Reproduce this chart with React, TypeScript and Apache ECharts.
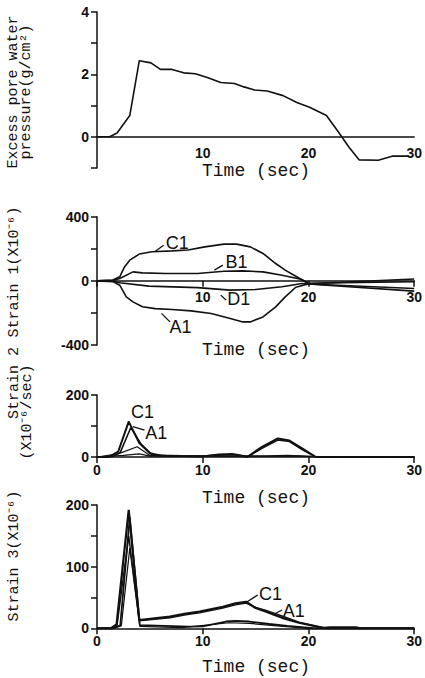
import React, { useEffect, useRef } from "react";
import * as echarts from "echarts";

// ---- Excess pore water pressure (g/cm²) against time (sec)
const poreT = [0, 1.2, 1.9, 3.1, 4.0, 5.1, 6.0, 7.1, 8.2, 9.3, 10.5, 11.7, 13.0, 13.9, 14.9, 16.1, 17.6, 18.9, 20.1, 21.7, 22.9, 23.8, 24.8, 26.6, 27.9, 29.4];
const poreP = [0, 0, 0.12, 0.68, 2.44, 2.37, 2.16, 2.16, 2.05, 2.02, 1.89, 1.74, 1.71, 1.6, 1.5, 1.47, 1.32, 1.1, 0.95, 0.68, 0.12, -0.32, -0.74, -0.75, -0.62, -0.62];

// ---- Strain 1 (x10^-6)
const s1C1T = [0, 1.5, 2.15, 2.6, 3.1, 4.0, 5.2, 7.1, 8.6, 10.2, 12.0, 13.2, 14.5, 15.7, 16.9, 17.8, 18.8, 20.0, 30];
const s1C1V = [0, 5, 25, 87, 129, 167, 181, 187, 192, 212, 229, 229, 212, 171, 108, 67, 29, -18, 12];
const s1A1T = [0, 1.5, 2.15, 2.77, 3.4, 4.3, 5.5, 7.1, 8.9, 10.8, 12.6, 13.8, 14.5, 15.7, 16.9, 17.8, 18.8, 20.0, 30];
const s1A1V = [0, -5, -27, -100, -131, -162, -173, -179, -187, -204, -235, -256, -256, -225, -162, -100, -40, -20, -64];
const s1B1T = [0, 1.5, 2.15, 3.4, 4.3, 6.5, 9.5, 12.0, 13.8, 15.7, 17.5, 19.4, 20.0, 30];
const s1B1V = [0, 3, 15, 56, 50, 46, 46, 60, 62, 56, 35, 8, -15, -6];
const s1D1T = [0, 1.5, 2.15, 4.9, 9.5, 12.6, 15.0, 17.5, 19.4, 20.0, 30];
const s1D1V = [0, -2, -12, -33, -42, -58, -54, -37, -17, -20, -48];

// ---- Strain 2 (x10^-6/sec)
const s2C1T = [0, 1.1, 2.0, 3.0, 4.0, 5.0, 6.0, 8.0, 10.0, 11.5, 12.8, 13.5, 14.2, 15.6, 17.1, 18.2, 19.4, 20.7, 25, 30];
const s2C1V = [0, 0, 17, 114, 45, 12, 5, 3, 2, 8, 10, 6, 0, 33, 60, 53, 28, 0, 0, 0];
const s2A1T = [0, 1.5, 2.2, 3.2, 4.2, 5.2, 7.0, 10.0, 11.5, 12.8, 14.2, 15.6, 17.1, 18.2, 19.4, 20.7, 30];
const s2A1V = [0, 2, 15, 95, 40, 8, 3, 3, 6, 8, 0, 28, 55, 50, 24, 0, 0];
const s2B1T = [0, 2.0, 3.8, 5.0, 8.0, 12.0, 16.0, 18.0, 20.5, 30];
const s2B1V = [0, 10, 33, 5, 2, 4, 4, 5, 2, 0];
const s2D1T = [0, 2.5, 4.0, 5.0, 10.0, 16.0, 19.0, 21.0, 30];
const s2D1V = [0, 5, 10, 3, 2, 2, 3, 0, 0];

// ---- Strain 3 (x10^-6)
const s3C1T = [0, 1.3, 1.85, 3.0, 4.0, 6.9, 8.4, 9.7, 11.9, 13.1, 14.1, 15.0, 16.0, 17.5, 19.1, 21.6, 30];
const s3C1V = [0, 0, 6.5, 192, 13.5, 19, 24, 27, 35, 40.5, 43, 33, 27, 17, 9, 0, 0];
const s3A1T = [0, 1.3, 1.9, 3.0, 4.0, 6.9, 8.4, 9.7, 11.9, 13.1, 14.1, 15.0, 16.0, 17.5, 19.1, 21.6, 30];
const s3A1V = [0, 0, 5, 150, 12, 17, 22, 25, 33, 38, 41, 34, 29, 20, 10, 0, 0];
const s3B1T = [0, 1.5, 2.2, 3.1, 4.05, 8.7, 10.0, 12.2, 13.1, 14.4, 16.3, 18.0, 20.7, 22.0, 24.5, 25.0, 30];
const s3B1V = [0, 0, 5, 180, 5, 2.6, 3, 11, 12, 11, 7, 4, 0, 2, 2, 0, 0];
const s3D1T = [0, 1.6, 2.3, 3.1, 4.05, 8.0, 12.5, 14.4, 17.0, 20.0, 30];
const s3D1V = [0, 0, 4, 130, 3, 1, 9, 8, 4, 0, 0];

// ---- Axis titles
const yTitles = [
  { lines: ["Excess pore water", "pressure(g/cm²)"], cx: [13, 26], cy: [92, 92] },
  { lines: ["Strain 1(X10⁻⁶)"], cx: [14], cy: [272] },
  { lines: ["Strain 2", "(X10⁻⁶/sec)"], cx: [14, 27], cy: [383, 412] },
  { lines: ["Strain 3(X10⁻⁶)"], cx: [14], cy: [556] },
];
const xTitle = "Time (sec)";
const xTitleY = [171, 350, 498, 667];

// ---- Gauge labels, anchored in data units: [grid, text, text position, leader from, leader to]
const gaugeLabels: [number, string, number[], number[], number[]][] = [
  [1, "C1", [7.6, 233], [5.46, 181], [6.3, 222]],
  [1, "B1", [13.2, 118], [11.1, 67], [11.9, 98]],
  [1, "D1", [13.4, -112], [11.7, -89], [12.2, -120]],
  [1, "A1", [7.9, -290], [6.1, -203], [6.9, -256]],
  [2, "C1", [4.3, 146], [3.0, 114], [3.0, 116]],
  [2, "A1", [5.6, 76], [3.4, 98], [4.5, 87]],
  [3, "C1", [16.4, 55], [14.2, 43], [15.2, 54]],
  [3, "A1", [18.6, 28], [16.6, 21.6], [17.5, 29.7]],
];

const zip = (t: number[], v: number[]) => t.map((x, i) => [x, v[i]]);

const GRIDS = [
  { left: 97, top: 12, width: 319, height: 156 },
  { left: 97, top: 216.7, width: 319, height: 128.3 },
  { left: 97, top: 395, width: 319, height: 62 },
  { left: 97, top: 505, width: 319, height: 123.3 },
];

const Y_RANGES = [
  { min: -1, max: 4, interval: 1, show: (v: number) => v >= 0 && v % 2 === 0 },
  { min: -400, max: 400, interval: 200, show: (v: number) => v % 400 === 0 },
  { min: 0, max: 200, interval: 100, show: (v: number) => v % 200 === 0 },
  { min: 0, max: 200, interval: 50, show: (v: number) => v % 100 === 0 },
];

const INK = "#111";
const tickFont = { color: INK, fontFamily: "Liberation Sans", fontWeight: "bold" as const, fontSize: 14 };
const monoFont = "Liberation Mono";

export default function App() {
  const ref = useRef<HTMLDivElement>(null);

  useEffect(() => {
    document.body.style.margin = "0";
    if (!ref.current) return;
    const chart = echarts.init(ref.current, undefined, { renderer: "svg" });

    const line = (name: string, g: number, t: number[], v: number[], w = 1.6) => ({
      name,
      type: "line",
      xAxisIndex: g,
      yAxisIndex: g,
      data: zip(t, v),
      showSymbol: false,
      symbol: "none",
      lineStyle: { color: INK, width: w },
      z: 3,
    });

    // time axis drawn through the zero of each panel's value axis
    const xAxes = [0, 1, 2, 3].map((g) => {
      const r = Y_RANGES[g];
      const zeroShift = (GRIDS[g].height * (0 - r.min)) / (r.max - r.min);
      return {
        type: "value",
        gridIndex: g,
        position: "bottom",
        offset: -zeroShift,
        min: 0,
        max: 30,
        interval: 10,
        axisLine: { onZero: false, lineStyle: { color: INK, width: 1.5 } },
        axisTick: { show: g > 0, length: 6, inside: false, lineStyle: { color: INK, width: 1.5 } },
        axisLabel: {
          ...tickFont,
          margin: g < 2 ? 9 : 6,
          formatter: (v: number) => (g < 2 && v === 0 ? "" : String(v)),
        },
        splitLine: { show: false },
      };
    });

    const yAxes = Y_RANGES.map((a, g) => ({
      type: "value",
      gridIndex: g,
      min: a.min,
      max: a.max,
      interval: a.interval,
      axisLine: { show: true, onZero: false, lineStyle: { color: INK, width: 1.5 } },
      axisTick: { show: true, length: 6, lineStyle: { color: INK, width: 1.5 } },
      axisLabel: { ...tickFont, margin: 8, formatter: (v: number) => (a.show(v) ? String(v) : "") },
      splitLine: { show: false },
    }));

    const titleGraphics: any[] = [];
    yTitles.forEach((yt) => {
      yt.lines.forEach((txt, i) => {
        titleGraphics.push({
          type: "text",
          x: yt.cx[i],
          y: yt.cy[i],
          rotation: Math.PI / 2,
          style: {
            text: txt,
            fill: INK,
            font: `15px "${monoFont}"`,
            textAlign: "center",
            textVerticalAlign: "middle",
          },
        });
      });
    });
    xTitleY.forEach((y) => {
      titleGraphics.push({
        type: "text",
        x: 256,
        y,
        style: {
          text: xTitle,
          fill: INK,
          font: `18px "${monoFont}"`,
          textAlign: "center",
          textVerticalAlign: "middle",
        },
      });
    });

    chart.setOption({
      animation: false,
      backgroundColor: "#fff",
      grid: GRIDS.map((g) => ({ ...g, containLabel: false })),
      xAxis: xAxes,
      yAxis: yAxes,
      series: [
        line("pore", 0, poreT, poreP, 1.6),
        line("C1", 1, s1C1T, s1C1V),
        line("B1", 1, s1B1T, s1B1V),
        line("D1", 1, s1D1T, s1D1V),
        line("A1", 1, s1A1T, s1A1V),
        line("C1", 2, s2C1T, s2C1V, 2),
        line("A1", 2, s2A1T, s2A1V),
        line("B1", 2, s2B1T, s2B1V, 1.2),
        line("D1", 2, s2D1T, s2D1V, 1.2),
        line("C1", 3, s3C1T, s3C1V, 2.2),
        line("A1", 3, s3A1T, s3A1V, 1.4),
        line("B1", 3, s3B1T, s3B1V, 1.8),
        line("D1", 3, s3D1T, s3D1V, 1.2),
      ],
      graphic: titleGraphics,
    });

    // gauge labels and their leader lines, placed through the axes' scales
    const labelGraphics: any[] = [];
    gaugeLabels.forEach(([g, txt, at, from, to]) => {
      const p = chart.convertToPixel({ gridIndex: g }, at) as number[];
      const a = chart.convertToPixel({ gridIndex: g }, from) as number[];
      const b = chart.convertToPixel({ gridIndex: g }, to) as number[];
      labelGraphics.push({
        type: "line",
        shape: { x1: a[0], y1: a[1], x2: b[0], y2: b[1] },
        style: { stroke: INK, lineWidth: 1.3 },
        z: 10,
      });
      labelGraphics.push({
        type: "text",
        x: p[0],
        y: p[1],
        z: 10,
        style: {
          text: txt,
          fill: INK,
          font: `18px "Liberation Sans"`,
          textAlign: "center",
          textVerticalAlign: "middle",
        },
      });
    });
    chart.setOption({ graphic: [...titleGraphics, ...labelGraphics] });

    return () => chart.dispose();
  }, []);

  return <div ref={ref} style={{ width: 425, height: 678 }} />;
}
